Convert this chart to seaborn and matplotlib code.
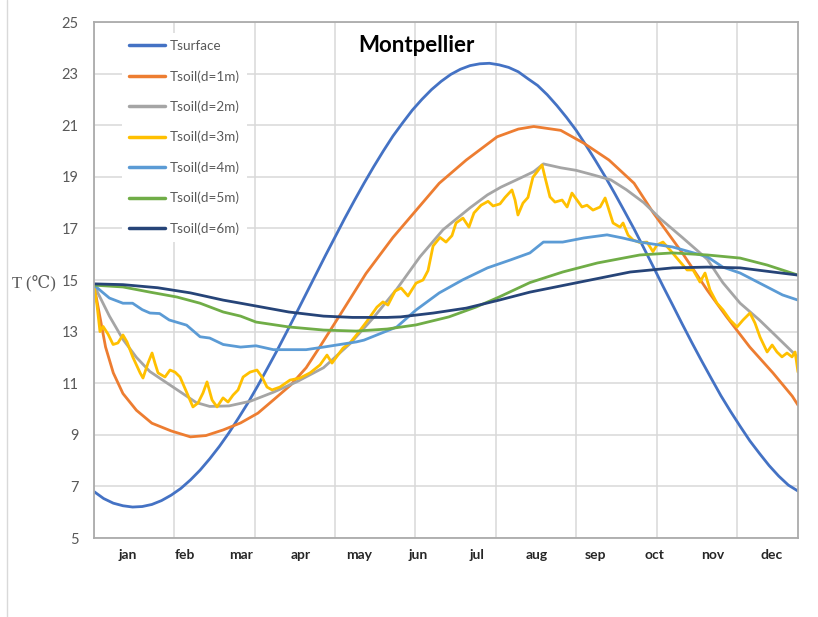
import numpy as np
import pandas as pd
import seaborn as sns
import matplotlib.pyplot as plt
from matplotlib.lines import Line2D

# ---- data: day of year -> temperature (°C) ----
surf_day = [0, 5, 10, 15, 20, 25, 30, 35, 40, 45, 50, 55, 60, 65, 70, 75, 80, 85, 90, 95,
            100, 105, 110, 115, 120, 125, 130, 135, 140, 145, 150, 155, 160, 165, 170, 175,
            180, 185, 190, 195, 200, 205, 210, 215, 220, 225, 230, 235, 240, 245, 250, 255,
            260, 265, 270, 275, 280, 285, 290, 295, 300, 305, 310, 315, 320, 325, 330, 335,
            340, 345, 350, 355, 360, 365]
surf_t = [6.8, 6.53, 6.35, 6.25, 6.2, 6.22, 6.3, 6.45, 6.66, 6.92, 7.25, 7.63, 8.07, 8.55,
          9.08, 9.66, 10.26, 10.91, 11.59, 12.28, 13.0, 13.73, 14.47, 15.21, 15.95, 16.67,
          17.39, 18.08, 18.75, 19.39, 20.0, 20.58, 21.09, 21.58, 22.0, 22.38, 22.7, 22.97,
          23.17, 23.31, 23.38, 23.4, 23.34, 23.24, 23.07, 22.8, 22.54, 22.18, 21.76, 21.3,
          20.8, 20.23, 19.63, 19.01, 18.35, 17.67, 16.98, 16.25, 15.51, 14.76, 14.03, 13.29,
          12.57, 11.87, 11.19, 10.52, 9.91, 9.33, 8.77, 8.28, 7.81, 7.4, 7.05, 6.82]

d1_day = [0, 3, 6, 10, 15, 22, 30, 40, 50, 58, 67, 76, 85, 93, 102, 110, 117, 128, 141, 155,
          167, 179, 193, 209, 220, 228, 242, 254, 267, 280, 290, 305, 318, 328, 340, 352, 362, 365]
d1_t = [14.8, 13.6, 12.4, 11.4, 10.6, 9.95, 9.45, 9.15, 8.92, 8.97, 9.19, 9.46, 9.84, 10.35,
        10.93, 11.6, 12.4, 13.7, 15.25, 16.65, 17.7, 18.75, 19.65, 20.55, 20.85, 20.95, 20.8,
        20.3, 19.65, 18.75, 17.6, 16.05, 14.6, 13.57, 12.4, 11.4, 10.5, 10.15]

d2_day = [0, 8, 15, 22, 29, 38, 46, 53, 60, 70, 81, 93, 105, 119, 133, 145, 157, 169, 181,
          195, 204, 211, 221, 228, 233, 242, 250, 259, 268, 276, 285, 294, 305, 318, 326, 335,
          345, 354, 365]
d2_t = [14.8, 13.6, 12.7, 12.0, 11.45, 11.0, 10.6, 10.25, 10.1, 10.12, 10.3, 10.65, 11.05,
        11.6, 12.55, 13.55, 14.65, 15.9, 16.95, 17.8, 18.3, 18.6, 18.95, 19.2, 19.5, 19.35,
        19.25, 19.07, 18.88, 18.5, 18.0, 17.35, 16.65, 15.8, 14.9, 14.1, 13.45, 12.8, 12.0]

d3_day = [0, 1.6, 3.1, 4.7, 7.3, 9.9, 12.4, 15.0, 17.1, 20.2, 23.9, 25.4, 28.0, 30.1, 31.6,
          33.2, 36.8, 39.4, 42.0, 44.6, 48.2, 51.3, 53.9, 56.5, 58.6, 61.2, 63.8, 66.9, 69.5,
          72.1, 74.7, 77.3, 80.9, 84.5, 87.1, 89.7, 92.3, 96.4, 101.6, 106.8, 112.0, 117.2,
          120.8, 123.4, 129.1, 132.7, 136.4, 141.5, 146.7, 149.8, 152.4, 156.1, 159.2, 162.8,
          167.0, 170.6, 173.2, 175.8, 179.4, 182.5, 185.6, 187.7, 191.3, 194.4, 197.0, 200.7,
          204.3, 206.9, 210.5, 213.1, 216.7, 218.3, 219.8, 222.4, 225.0, 227.6, 229.7, 232.3,
          233.8, 236.4, 239.0, 242.7, 245.3, 247.8, 250.4, 253.0, 255.6, 258.7, 262.4, 265.0,
          266.5, 269.1, 272.7, 274.3, 276.9, 279.5, 283.1, 286.7, 289.8, 291.9, 295.0, 298.7,
          303.9, 307.5, 310.6, 314.2, 316.8, 319.4, 323.0, 326.1, 329.8, 333.4, 336.5, 340.1,
          342.7, 345.3, 349.0, 351.6, 354.1, 356.7, 359.3, 361.9, 363.5, 365.0]
d3_t = [14.8, 14.0, 13.0, 13.2, 12.9, 12.5, 12.56, 12.87, 12.6, 12.0, 11.4, 11.2, 11.78,
        12.17, 11.78, 11.4, 11.24, 11.51, 11.43, 11.24, 10.62, 10.08, 10.23, 10.62, 11.05,
        10.35, 10.08, 10.43, 10.27, 10.54, 10.74, 11.24, 11.43, 11.51, 11.24, 10.85, 10.74,
        10.85, 11.12, 11.2, 11.4, 11.71, 12.09, 11.78, 12.36, 12.56, 12.9, 13.4, 13.95, 14.15,
        14.03, 14.57, 14.69, 14.38, 14.88, 15.0, 15.37, 16.32, 16.65, 16.47, 16.72, 17.21,
        17.4, 17.05, 17.6, 17.9, 18.05, 17.87, 17.95, 18.2, 18.49, 18.1, 17.52, 17.98, 18.2,
        18.99, 19.19, 19.46, 18.99, 18.22, 18.02, 18.1, 17.83, 18.37, 18.1, 17.83, 17.9, 17.71,
        17.83, 18.18, 17.83, 17.21, 17.05, 17.21, 16.74, 16.55, 16.45, 16.47, 16.1, 16.36,
        16.47, 16.16, 15.7, 15.39, 15.39, 14.92, 15.27, 14.61, 14.1, 13.84, 13.45, 13.18,
        13.45, 13.72, 13.33, 12.79, 12.21, 12.48, 12.21, 12.02, 12.17, 12.02, 12.21, 11.43]

d4_day = [0, 8, 15, 20, 25, 29, 34, 39, 48, 55, 60, 67, 76, 84, 93, 110, 119, 136, 140, 157,
          167, 179, 191, 204, 216, 226, 233, 243, 254, 266, 274, 283, 300, 318, 326, 335, 349,
          357, 365]
d4_t = [14.8, 14.3, 14.1, 14.1, 13.85, 13.72, 13.7, 13.45, 13.25, 12.8, 12.75, 12.5, 12.4,
        12.45, 12.3, 12.3, 12.4, 12.6, 12.67, 13.18, 13.84, 14.5, 15.0, 15.47, 15.78, 16.05,
        16.47, 16.47, 16.63, 16.75, 16.63, 16.47, 16.28, 15.9, 15.5, 15.27, 14.73, 14.42, 14.22]

d5_day = [0, 15, 29, 43, 55, 67, 76, 84, 101, 107, 119, 136, 152, 167, 184, 198, 210, 226,
          243, 261, 278, 283, 300, 318, 335, 349, 365]
d5_t = [14.8, 14.73, 14.53, 14.34, 14.1, 13.76, 13.6, 13.37, 13.18, 13.14, 13.06, 13.02, 13.1,
        13.26, 13.57, 13.95, 14.34, 14.9, 15.31, 15.66, 15.9, 15.97, 16.05, 15.97, 15.85,
        15.58, 15.19]

d6_day = [0, 15, 33, 50, 67, 76, 101, 119, 134, 152, 159, 176, 193, 210, 226, 252, 278, 300,
          318, 335, 352, 365]
d6_t = [14.85, 14.82, 14.7, 14.5, 14.22, 14.1, 13.76, 13.6, 13.55, 13.55, 13.57, 13.72, 13.91,
        14.22, 14.53, 14.92, 15.31, 15.47, 15.5, 15.47, 15.31, 15.19]

names = ["Tsurface", "Tsoil(d=1m)", "Tsoil(d=2m)", "Tsoil(d=3m)",
         "Tsoil(d=4m)", "Tsoil(d=5m)", "Tsoil(d=6m)"]
colors = ["#4472C4", "#ED7D31", "#A5A5A5", "#FFC000", "#5B9BD5", "#70AD47", "#264478"]

months = ["jan", "feb", "mar", "apr", "may", "jun", "jul", "aug", "sep", "oct", "nov", "dec"]
month_day = [17.5, 47, 76.5, 107, 137.5, 168, 198.5, 229.5, 260, 290.5, 321, 351.5]

# ---- long-form table ----
series = [(surf_day, surf_t), (d1_day, d1_t), (d2_day, d2_t), (d3_day, d3_t),
          (d4_day, d4_t), (d5_day, d5_t), (d6_day, d6_t)]
frames = []
for name, (dd, tt) in zip(names, series):
    frames.append(pd.DataFrame({"hour": np.array(dd) * 24.0, "T": tt, "serie": name}))
df = pd.concat(frames, ignore_index=True)

# ---- figure ----
sns.set_style("white")
plt.rcParams["font.family"] = ["Lato", "DejaVu Sans"]

fig = plt.figure(figsize=(8.18, 6.17), dpi=100)
ax = fig.add_axes([94 / 818, 1 - 538 / 617, 704 / 818, 516 / 617])

sns.lineplot(data=df, x="hour", y="T", hue="serie", hue_order=names, palette=colors,
             estimator=None, linewidth=2.0, legend=False, ax=ax)

ax.set_xlim(0, 8760)
ax.set_ylim(5, 25)
ax.set_yticks(range(5, 26, 2))
ax.set_xticks(range(0, 9000, 1000))
ax.set_xticklabels([])
ax.set_xticks(np.array(month_day) * 24, minor=True)
ax.set_xticklabels(months, minor=True, fontweight="bold", fontsize=10, color="#262626")
ax.tick_params(axis="x", which="both", length=0, pad=8)
ax.tick_params(axis="y", length=0, pad=11, labelsize=10.5, labelcolor="#595959")
ax.set_xlabel("")
ax.set_ylabel("")
ax.grid(True, which="major", color="#D9D9D9", linewidth=1.1)
ax.set_axisbelow(True)
for sp in ax.spines.values():
    sp.set_visible(True)
    sp.set_color("#ABABAB")
    sp.set_linewidth(1.3)

handles = [Line2D([0], [0], color=c, lw=2.5) for c in colors]
leg = ax.legend(handles, names, loc="upper left", bbox_to_anchor=(0.04, 0.978),
                borderaxespad=0, frameon=True, facecolor="white", edgecolor="none",
                framealpha=1, fancybox=False, fontsize=9.7, labelcolor="#595959",
                handlelength=2.7, handletextpad=0.35, labelspacing=1.33, borderpad=0.5)

fig.text(416 / 818, 1 - 45 / 617, "Montpellier", ha="center", va="center",
         fontsize=16, fontweight="bold", color="black")
fig.text(12 / 818, 1 - 283 / 617, "T (℃)", ha="left", va="center", fontsize=12,
         color="#595959", family=["Liberation Serif", "DejaVu Serif"])
fig.add_artist(Line2D([7 / 818, 7 / 818], [0, 1], transform=fig.transFigure,
                      color="#D9D9D9", lw=1))

fig.savefig("out.png", dpi=100, facecolor="white")
